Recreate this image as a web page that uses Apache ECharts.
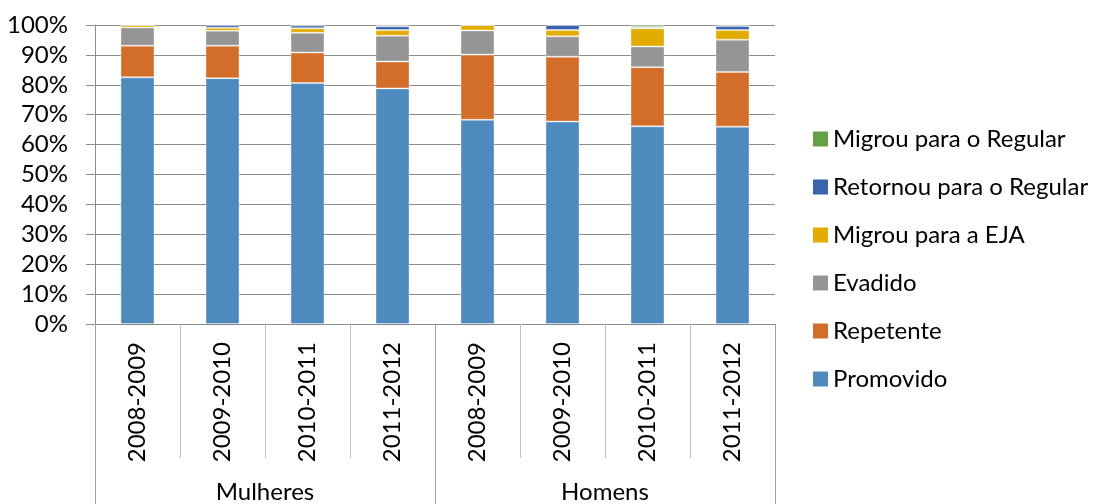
<!DOCTYPE html>
<html><head><meta charset="utf-8">
<script src="https://cdn.jsdelivr.net/npm/echarts@6/dist/echarts.min.js"></script>
<style>html,body{margin:0;padding:0;background:#fff}#c{width:1100px;height:504px}</style>
</head><body><div id="c"></div>
<script>
const categories = ['2008-2009','2009-2010','2010-2011','2011-2012','2008-2009','2009-2010','2010-2011','2011-2012'];
const groups = ['Mulheres','Homens'];
const yTicks = ['0%','10%','20%','30%','40%','50%','60%','70%','80%','90%','100%'];
const promovido = [82.5, 82.2, 80.6, 78.8, 68.3, 67.7, 66.1, 66.0];
const repetente = [10.6, 10.9, 10.2, 9.0, 21.8, 21.7, 19.8, 18.3];
const evadido   = [6.1, 5.0, 6.6, 8.6, 8.1, 6.8, 6.9, 10.8];
const migrouEJA = [0.8, 1.0, 1.5, 1.9, 1.8, 2.1, 6.1, 3.2];
const retornou  = [0.0, 0.9, 0.9, 1.3, 0.0, 1.7, 0.4, 1.4];
const migrouReg = [0.0, 0.0, 0.2, 0.4, 0.0, 0.0, 0.7, 0.3];
const seriesNames = ['Promovido','Repetente','Evadido','Migrou para a EJA','Retornou para o Regular','Migrou para o Regular'];
const seriesData = [promovido, repetente, evadido, migrouEJA, retornou, migrouReg];
const colors = ['#4F8ABE','#D36E2A','#959595','#E3AC02','#3C64AD','#66A044'];
const FONT = 'Lato';
const FS = 24;
const chart = echarts.init(document.getElementById('c'));
chart.setOption({
  animation:false,
  textStyle:{fontFamily:FONT},
  grid:{left:95,right:325,top:25,bottom:179,containLabel:false},
  legend:{
    orient:'vertical', left:808, top:122, itemWidth:15, itemHeight:15, itemGap:24,
    icon:'rect', data: seriesNames.slice().reverse(),
    textStyle:{fontFamily:FONT,fontSize:FS,lineHeight:24,color:'#000'}, itemStyle:{borderWidth:0}
  },
  xAxis:[
    {type:'category', data:categories, position:'bottom',
     axisLine:{show:false},
     axisTick:{show:true, length:134, lineStyle:{color:'#c0c0c0',width:1}},
     axisLabel:{rotate:90, margin:18, fontFamily:FONT, fontSize:FS, color:'#000'}},
    {type:'category', data:groups, position:'bottom',
     axisLine:{show:false},
     axisTick:{show:true, length:185, lineStyle:{color:'#a0a0a0',width:1}},
     axisLabel:{margin:156, fontFamily:FONT, fontSize:FS, color:'#000'}}
  ],
  yAxis:{type:'value', min:0, max:100, interval:10,
    axisLine:{show:true, lineStyle:{color:'#8c8c8c',width:1}},
    axisTick:{show:true, length:9, lineStyle:{color:'#8c8c8c'}},
    splitLine:{show:true, lineStyle:{color:'#8c8c8c',width:1}},
    axisLabel:{formatter:v=>yTicks[Math.round(v/10)], margin:27, fontFamily:FONT, fontSize:FS, color:'#000'}
  },
  series: seriesNames.map((n,i)=>({
    name:n, type:'bar', stack:'s', xAxisIndex:0, barWidth:34,
    data:seriesData[i], itemStyle:{color:colors[i], borderColor:'rgba(255,255,255,0.35)', borderWidth:1}
  }))
});
</script></body></html>
